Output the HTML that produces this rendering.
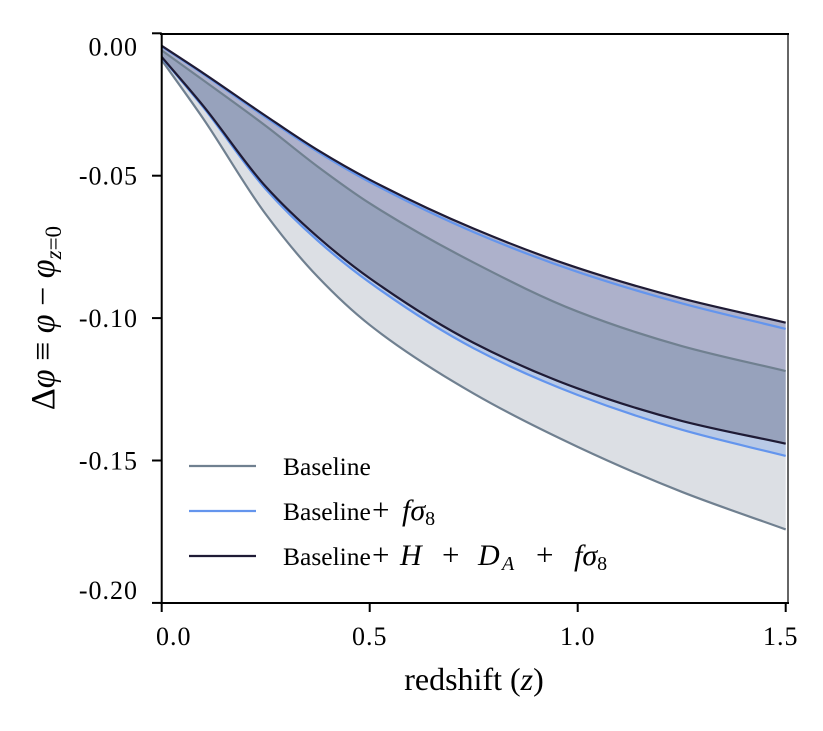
<!DOCTYPE html>
<html><head><meta charset="utf-8">
<style>
html,body{margin:0;padding:0;background:#fff;}
svg{display:block;font-family:"Liberation Serif","DejaVu Serif",serif;}
</style></head>
<body>
<svg id="chart" width="823" height="731" viewBox="0 0 823 731">
  <g id="fills"></g>
  <g id="lines"></g>
  <g id="axes"></g>
  <g>
    <line x1="189" y1="466" x2="256" y2="466" stroke="#708090" stroke-width="2.2"/>
    <text x="283" y="475" font-size="25.5">Baseline</text>
    <line x1="189" y1="511" x2="256" y2="511" stroke="#6495ed" stroke-width="2.2"/>
    <text y="520" font-size="25.5"><tspan x="283">Baseline</tspan><tspan x="372" font-size="31">+</tspan><tspan x="402" font-style="italic" font-size="30">fσ</tspan><tspan font-size="20" dy="5">8</tspan></text>
    <line x1="189" y1="556" x2="256" y2="556" stroke="#1f1b35" stroke-width="2.2"/>
    <text y="565" font-size="25.5"><tspan x="283">Baseline</tspan><tspan x="372" font-size="31">+</tspan><tspan x="400" font-style="italic" font-size="30">H</tspan><tspan x="442" font-size="31">+</tspan><tspan x="478" font-style="italic" font-size="30">D</tspan><tspan x="502" font-size="20" font-style="italic" dy="5">A</tspan><tspan x="536" dy="-5" font-size="31">+</tspan><tspan x="574" font-style="italic" font-size="30">fσ</tspan><tspan font-size="20" dy="5">8</tspan></text>
  </g>
  <text transform="translate(54,318) rotate(-90)" text-anchor="middle" font-size="34">Δ<tspan font-style="italic">φ</tspan> ≡ <tspan font-style="italic">φ</tspan> − <tspan font-style="italic">φ</tspan><tspan font-size="23" dy="7" font-style="italic">z</tspan><tspan font-size="23">=0</tspan></text>
  <text x="474" y="690" text-anchor="middle" font-size="32">redshift (<tspan font-style="italic">z</tspan>)</text>
</svg>
<script>
const zVals = [0, 0.1, 0.25, 0.375, 0.5, 0.75, 1.0, 1.25, 1.5];
const blackUp = [-0.0044, -0.0140, -0.0290, -0.0410, -0.0514, -0.0686, -0.0824, -0.0931, -0.1016];
const blueUp = [-0.0046, -0.0143, -0.0295, -0.0416, -0.0522, -0.0698, -0.0838, -0.0948, -0.1038];
const greyMid = [-0.0060, -0.0165, -0.0325, -0.0468, -0.0597, -0.0805, -0.0977, -0.1098, -0.1186];
const blackLow = [-0.0083, -0.0255, -0.0538, -0.0715, -0.0860, -0.1087, -0.1247, -0.1361, -0.1441];
const blueLow = [-0.0085, -0.0260, -0.0547, -0.0728, -0.0875, -0.1106, -0.1270, -0.1392, -0.1484];
const greyLow = [-0.0094, -0.0300, -0.0635, -0.0855, -0.1024, -0.1265, -0.1452, -0.1610, -0.1742];
const xTicks = [0, 0.5, 1.0, 1.5];
const xTickLabels = ["0.0", "0.5", "1.0", "1.5"];
const yTicks = [0, -0.05, -0.10, -0.15, -0.20];
const yTickLabels = ["0.00", "-0.05", "-0.10", "-0.15", "-0.20"];

const NS = "http://www.w3.org/2000/svg";
const X0 = 161.7, XS = 416.0, Y0 = 33.3, YS = 2848;
function xs(z){ return X0 + z * XS; }
function ys(v){ return Y0 - v * YS; }
function pts(arr){ return zVals.map((z,i)=>[xs(z), ys(arr[i])]); }
function tangents(p){
  const n=p.length, d=[], m=[];
  for(let i=0;i<n-1;i++) d.push((p[i+1][1]-p[i][1])/(p[i+1][0]-p[i][0]));
  m[0]=d[0]; m[n-1]=d[n-2];
  for(let i=1;i<n-1;i++){
    if(d[i-1]*d[i]<=0){ m[i]=0; }
    else { const h0=p[i][0]-p[i-1][0], h1=p[i+1][0]-p[i][0];
      const w1=2*h1+h0, w2=h1+2*h0; m[i]=(w1+w2)/(w1/d[i-1]+w2/d[i]); }
  }
  return m;
}
function smooth(p, move){
  const m = tangents(p);
  let d = (move ? "M" : "L") + p[0][0].toFixed(2) + "," + p[0][1].toFixed(2);
  for (let i=0;i<p.length-1;i++){
    const h=(p[i+1][0]-p[i][0])/3;
    const c1=[p[i][0]+h, p[i][1]+m[i]*h];
    const c2=[p[i+1][0]-h, p[i+1][1]-m[i+1]*h];
    d += "C"+c1[0].toFixed(2)+","+c1[1].toFixed(2)+" "+c2[0].toFixed(2)+","+c2[1].toFixed(2)+" "+p[i+1][0].toFixed(2)+","+p[i+1][1].toFixed(2);
  }
  return d;
}
function smoothRev(p){
  const m = tangents(p);
  const n=p.length;
  let d = "L" + p[n-1][0].toFixed(2) + "," + p[n-1][1].toFixed(2);
  for (let i=n-1;i>0;i--){
    const h=(p[i][0]-p[i-1][0])/3;
    const c1=[p[i][0]-h, p[i][1]-m[i]*h];
    const c2=[p[i-1][0]+h, p[i-1][1]+m[i-1]*h];
    d += "C"+c1[0].toFixed(2)+","+c1[1].toFixed(2)+" "+c2[0].toFixed(2)+","+c2[1].toFixed(2)+" "+p[i-1][0].toFixed(2)+","+p[i-1][1].toFixed(2);
  }
  return d;
}
function band(a, b, color, name){
  const el = document.createElementNS(NS, "path");
  el.setAttribute("d", smooth(pts(a), true) + smoothRev(pts(b)) + "Z");
  el.setAttribute("fill", color);
  
  
  document.getElementById("fills").appendChild(el);
}
function line(a, color, name){
  const el = document.createElementNS(NS, "path");
  el.setAttribute("d", smooth(pts(a), true));
  el.setAttribute("fill", "none");
  el.setAttribute("stroke", color);
  el.setAttribute("stroke-width", "2.2");
  
  
  document.getElementById("lines").appendChild(el);
}
band(greyMid, greyLow, "#dcdfe4", "baseline-band");
band(blackLow, blueLow, "#b8c9e6", "fs8-band-lower");
band(blackUp, greyMid, "#adb1cb", "full-band-upper");
band(greyMid, blackLow, "#97a2bc", "full-band-overlap");
line(greyMid, "#708090", "baseline-line-mid");
line(greyLow, "#708090", "baseline-line-lower");
line(blueUp, "#6495ed", "fs8-line-upper");
line(blueLow, "#6495ed", "fs8-line-lower");
line(blackUp, "#1f1b35", "full-line-upper");
line(blackLow, "#1f1b35", "full-line-lower");

const ax = document.getElementById("axes");
function mk(tag, attrs){ const e=document.createElementNS(NS, tag); for(const k in attrs) e.setAttribute(k, attrs[k]); ax.appendChild(e); return e; }
const sp1 = mk("line",{x1:161.7,y1:34,x2:161.7,y2:603,stroke:"#000","stroke-width":2});


const sp2 = mk("line",{x1:160,y1:603,x2:789,y2:603,stroke:"#000","stroke-width":2});


const sp3 = mk("line",{x1:160,y1:34,x2:789,y2:34,stroke:"#000","stroke-width":2});


const sp4 = mk("line",{x1:788,y1:34,x2:788,y2:603,stroke:"#000","stroke-width":1.2});


const xLabelOffsets = [12, 0, 0, -5];
xTicks.forEach((t,i)=>{
  const tk = mk("line",{x1:xs(t),y1:603,x2:xs(t),y2:612,stroke:"#000","stroke-width":2});
  
  
  const tx = mk("text",{x:xs(t)+xLabelOffsets[i],y:645,"text-anchor":"middle","font-size":"26","letter-spacing":"1"});
  tx.textContent = xTickLabels[i];
  
  
});
const yLabelOffsets = [13, 0, 0, 0, -13];
yTicks.forEach((t,i)=>{
  const tk = mk("line",{x1:152,y1:ys(t),x2:161.7,y2:ys(t),stroke:"#000","stroke-width":2});
  
  
  const tx = mk("text",{x:138,y:ys(t)+9+yLabelOffsets[i],"text-anchor":"end","font-size":"26","letter-spacing":"1"});
  tx.textContent = yTickLabels[i];
  
  
});
</script>
</body></html>
